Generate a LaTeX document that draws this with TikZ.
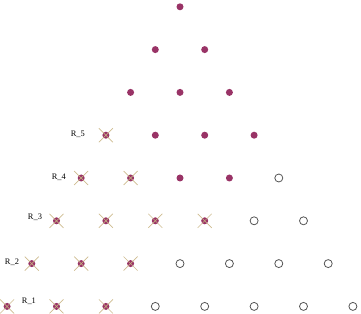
\documentclass[tikz,border=0pt]{standalone}
\usepackage{fontspec}
\setmainfont{Liberation Serif}
\definecolor{dotc}{RGB}{153,51,102}
\definecolor{crossc}{RGB}{200,180,130}
\definecolor{ringc}{RGB}{85,85,85}
\begin{document}
\begin{tikzpicture}[x=1pt,y=1pt,
  full/.style={circle,fill=dotc,inner sep=0pt,minimum size=7pt},
  hollow/.style={circle,draw=ringc,line width=0.8pt,inner sep=0pt,minimum size=8pt},
  xmark/.style={draw=crossc,line width=0.7pt,opacity=0.9},
  lbl/.style={font=\fontsize{8.4}{10}\selectfont,inner sep=0pt}]
\useasboundingbox (0,0) rectangle (361,313);
\foreach \r/\c/\f in {0/-1/0, 1/-1/1, 2/-1/2, 3/0/3, 4/1/3, 5/3/3, 6/2/2, 7/2/2}{
  \foreach \i in {0,...,\r}{
    \pgfmathsetmacro\xx{180+(\i-\r/2)*49.4}
    \pgfmathsetmacro\yy{306.2-42.8*\r}
    \ifnum\i>\f
      \node[hollow] (p-\r-\i) at (\xx,\yy) {};
    \else
      \node[full] (p-\r-\i) at (\xx,\yy) {};
    \fi
    \ifnum\i>\c\else
      \draw[xmark] (p-\r-\i.center) +(-7,-7) -- +(7,7);
      \draw[xmark] (p-\r-\i.center) +(-7,7) -- +(7,-7);
    \fi
  }
}
\node[lbl] (l5) at (77.8,178.7) {R\_5};
\node[lbl] (l4) at (58.8,135.7) {R\_4};
\node[lbl] (l3) at (35,95.3) {R\_3};
\node[lbl] (l2) at (12,50.3) {R\_2};
\node[lbl] (l1) at (28.9,11.3) {R\_1};
\end{tikzpicture}
\end{document}
